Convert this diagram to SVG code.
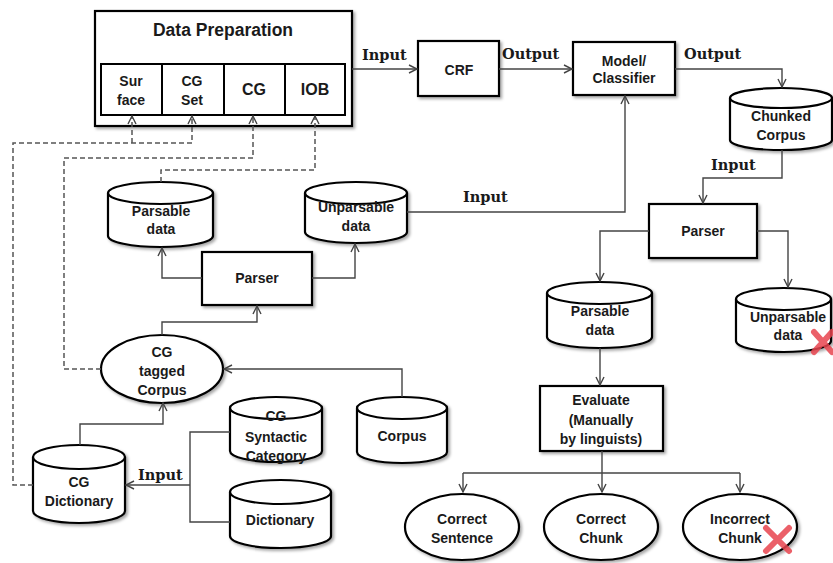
<svg xmlns="http://www.w3.org/2000/svg" width="833" height="563" viewBox="0 0 833 563">
<style>
.box{fill:#fff;stroke:#000;stroke-width:2.2;filter:url(#sh)}
.cell{fill:#fff;stroke:#000;stroke-width:2}
.cyl{fill:#fff;stroke:#000;stroke-width:2.2}
.cylf{fill:#fff;stroke:#000;stroke-width:2.2;filter:url(#sh)}
.t{font-family:"Liberation Sans",Arial,sans-serif;font-weight:bold;font-size:14px;fill:#1a1a1a;text-anchor:middle}
.lab{font-family:"DejaVu Serif","Liberation Serif",serif;font-weight:bold;font-size:14.5px;fill:#1a1a1a}
.ln{fill:none;stroke:#444;stroke-width:1.4}
.dl{fill:none;stroke:#555;stroke-width:1.5;stroke-dasharray:5,3}
.x{stroke:#e8454f;stroke-width:6;stroke-linecap:round;opacity:0.85}
</style>
<defs>
<filter id="sh" x="-10%" y="-10%" width="130%" height="140%">
<feDropShadow dx="2" dy="2" stdDeviation="1.5" flood-color="#000" flood-opacity="0.35"/>
</filter>
<marker id="ar" markerUnits="userSpaceOnUse" markerWidth="12" markerHeight="12" refX="9" refY="5" orient="auto">
<path d="M1,1 L9,5 L1,9" fill="none" stroke="#444" stroke-width="1.4"/>
</marker>
</defs>

<g id="data-preparation">
<rect class="box" x="95" y="11" width="257" height="115"/>
<text class="t" x="223" y="36" style="font-size:17.5px">Data Preparation</text>
<rect class="cell" x="101" y="64" width="61" height="51"/>
<rect class="cell" x="162" y="64" width="62" height="51"/>
<rect class="cell" x="224" y="64" width="61" height="51"/>
<rect class="cell" x="285" y="64" width="60" height="51"/>
<text class="t" x="131" y="86">Sur</text>
<text class="t" x="131" y="105">face</text>
<text class="t" x="192" y="86">CG</text>
<text class="t" x="192" y="105">Set</text>
<text class="t" x="254" y="95" style="font-size:16px">CG</text>
<text class="t" x="315" y="95" style="font-size:16px">IOB</text>
</g>

<g id="crf">
<rect class="box" x="418" y="41" width="81" height="55"/>
<text class="t" x="459" y="75">CRF</text>
</g>

<g id="model">
<rect class="box" x="573" y="42" width="102" height="53"/>
<text class="t" x="624" y="66">Model/</text>
<text class="t" x="624" y="83">Classifier</text>
</g>

<g id="chunked-corpus">
<path class="cylf" d="M730,98 A51,10 0 0 1 832,98 V140 A51,10 0 0 1 730,140 Z"/>
<path class="cyl" d="M730,98 A51,10 0 0 0 832,98"/>
<text class="t" x="781" y="121">Chunked</text>
<text class="t" x="781" y="140">Corpus</text>
</g>

<g id="parser-right">
<rect class="box" x="649" y="204" width="108" height="54"/>
<text class="t" x="703" y="236">Parser</text>
</g>

<g id="parsable-right">
<path class="cylf" d="M547,293 A52.5,11 0 0 1 652,293 V337 A52.5,11 0 0 1 547,337 Z"/>
<path class="cyl" d="M547,293 A52.5,11 0 0 0 652,293"/>
<text class="t" x="600" y="316">Parsable</text>
<text class="t" x="600" y="335">data</text>
</g>

<g id="unparsable-right">
<path class="cylf" d="M736,299 A47.5,11 0 0 1 831,299 V341 A47.5,11 0 0 1 736,341 Z"/>
<path class="cyl" d="M736,299 A47.5,11 0 0 0 831,299"/>
<text class="t" x="788" y="322">Unparsable</text>
<text class="t" x="788" y="340">data</text>
<path class="x" d="M814,332 L832,352 M832,332 L814,352"/>
</g>

<g id="evaluate">
<rect class="box" x="540" y="386" width="123" height="65"/>
<text class="t" x="601" y="405">Evaluate</text>
<text class="t" x="601" y="425">(Manually</text>
<text class="t" x="601" y="444">by linguists)</text>
</g>

<g id="correct-sentence">
<ellipse class="box" cx="462" cy="527" rx="57" ry="33"/>
<text class="t" x="462" y="524">Correct</text>
<text class="t" x="462" y="543">Sentence</text>
</g>

<g id="correct-chunk">
<ellipse class="box" cx="601" cy="527" rx="57" ry="33"/>
<text class="t" x="601" y="524">Correct</text>
<text class="t" x="601" y="543">Chunk</text>
</g>

<g id="incorrect-chunk">
<ellipse class="box" cx="740" cy="527" rx="57" ry="33"/>
<text class="t" x="740" y="524">Incorrect</text>
<text class="t" x="740" y="543">Chunk</text>
<path class="x" d="M766,528 L789,551 M789,528 L766,551"/>
</g>

<g id="parsable-left">
<path class="cylf" d="M108,193 A52.5,11 0 0 1 213,193 V236 A52.5,11 0 0 1 108,236 Z"/>
<path class="cyl" d="M108,193 A52.5,11 0 0 0 213,193"/>
<text class="t" x="161" y="216">Parsable</text>
<text class="t" x="161" y="234">data</text>
</g>

<g id="unparsable-left">
<path class="cylf" d="M305,193 A51,11 0 0 1 407,193 V232 A51,11 0 0 1 305,232 Z"/>
<path class="cyl" d="M305,193 A51,11 0 0 0 407,193"/>
<text class="t" x="356" y="212">Unparsable</text>
<text class="t" x="356" y="231">data</text>
</g>

<g id="parser-left">
<rect class="box" x="202" y="252" width="110" height="53"/>
<text class="t" x="257" y="283">Parser</text>
</g>

<g id="cg-tagged-corpus">
<ellipse class="box" cx="162" cy="369" rx="61" ry="34"/>
<text class="t" x="162" y="357">CG</text>
<text class="t" x="162" y="376">tagged</text>
<text class="t" x="162" y="395">Corpus</text>
</g>

<g id="cg-syntactic-category">
<path class="cylf" d="M230,408 A46,11 0 0 1 322,408 V451 A46,11 0 0 1 230,451 Z"/>
<path class="cyl" d="M230,408 A46,11 0 0 0 322,408"/>
<text class="t" x="276" y="421">CG</text>
<text class="t" x="276" y="442">Syntactic</text>
<text class="t" x="276" y="461">Category</text>
</g>

<g id="corpus">
<path class="cylf" d="M357,408 A45,11 0 0 1 447,408 V452 A45,11 0 0 1 357,452 Z"/>
<path class="cyl" d="M357,408 A45,11 0 0 0 447,408"/>
<text class="t" x="402" y="441">Corpus</text>
</g>

<g id="dictionary">
<path class="cylf" d="M230,492 A50.5,12 0 0 1 331,492 V536 A50.5,12 0 0 1 230,536 Z"/>
<path class="cyl" d="M230,492 A50.5,12 0 0 0 331,492"/>
<text class="t" x="280" y="525">Dictionary</text>
</g>

<g id="cg-dictionary">
<path class="cylf" d="M33,457 A46,12 0 0 1 125,457 V511 A46,12 0 0 1 33,511 Z"/>
<path class="cyl" d="M33,457 A46,12 0 0 0 125,457"/>
<text class="t" x="79" y="487">CG</text>
<text class="t" x="79" y="506">Dictionary</text>
</g>

<g id="connectors">
<path class="ln" d="M352,69 H417" marker-end="url(#ar)"/>
<path class="ln" d="M499,69 H572" marker-end="url(#ar)"/>
<path class="ln" d="M675,69 H782 V87" marker-end="url(#ar)"/>
<path class="ln" d="M782,150 V178 H703 V203" marker-end="url(#ar)"/>
<path class="ln" d="M649,231 H600 V281" marker-end="url(#ar)"/>
<path class="ln" d="M757,231 H788 V287" marker-end="url(#ar)"/>
<path class="ln" d="M600,348 V385" marker-end="url(#ar)"/>
<path class="ln" d="M602,451 V492" marker-end="url(#ar)"/>
<path class="ln" d="M463,473 H740"/>
<path class="ln" d="M463,473 V492" marker-end="url(#ar)"/>
<path class="ln" d="M740,473 V492" marker-end="url(#ar)"/>
<path class="ln" d="M202,278 H162 V248" marker-end="url(#ar)"/>
<path class="ln" d="M312,278 H355 V244" marker-end="url(#ar)"/>
<path class="ln" d="M407,212 H625 V96" marker-end="url(#ar)"/>
<path class="ln" d="M162,335 V322 H257 V306" marker-end="url(#ar)"/>
<path class="ln" d="M402,397 V369 H224" marker-end="url(#ar)"/>
<path class="ln" d="M80,445 V424 H163 V403" marker-end="url(#ar)"/>
<path class="ln" d="M230,432 H190 V522 H230"/>
<path class="ln" d="M190,485 H126" marker-end="url(#ar)"/>
<path class="dl" d="M33,485 H13 V143 H192 V116" marker-end="url(#ar)"/>
<path class="dl" d="M132,143 V116" marker-end="url(#ar)"/>
<path class="dl" d="M101,369 H64 V158 H253 V116" marker-end="url(#ar)"/>
<path class="dl" d="M161,182 V170 H315 V116" marker-end="url(#ar)"/>
<text class="lab" x="362" y="60">Input</text>
<text class="lab" x="502" y="59">Output</text>
<text class="lab" x="684" y="59">Output</text>
<text class="lab" x="711" y="170">Input</text>
<text class="lab" x="463" y="202">Input</text>
<text class="lab" x="138" y="480">Input</text>
</g>
</svg>
